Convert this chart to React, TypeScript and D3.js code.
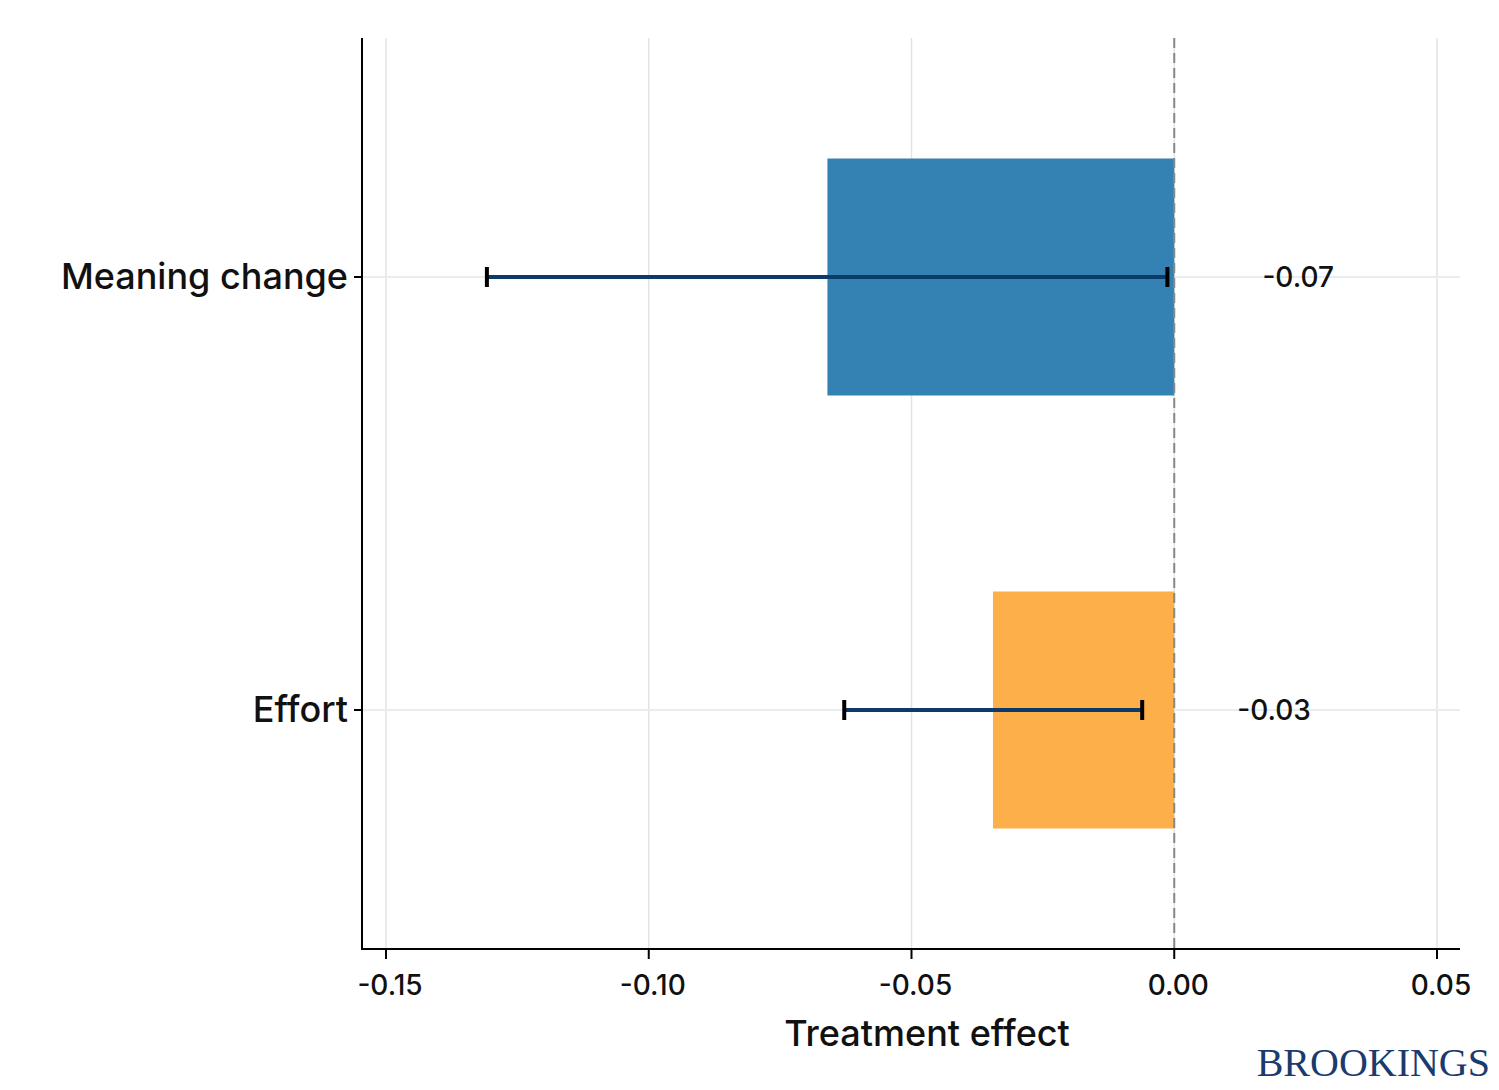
import React, { useEffect, useRef } from 'react';
import * as d3 from 'd3';

const categories = ['Meaning change', 'Effort'];
const effects = [-0.066, -0.0345];
const ciLow = [-0.1308, -0.0628];
const ciHigh = [-0.0013, -0.0061];
const valueLabels = ['-0.07', '-0.03'];
const barColors = ['#3482b4', '#fdaf4a'];
const xTicks = [-0.15, -0.1, -0.05, 0, 0.05];

const App = () => {
  const ref = useRef(null);

  useEffect(() => {
    const svg = d3.select(ref.current);
    svg.selectAll('*').remove();
    const font = 'Inter, "Noto Sans", sans-serif';

    const left = 362, right = 1460, top = 38, bottom = 949;
    const x = d3.scaleLinear().domain([-0.15, 0.05]).range([386, 1437]);
    const y = d3.scalePoint().domain(categories).range([277, 710]);
    const barH = 237;
    const cy = (c) => y(c);

    svg.append('g').selectAll('line').data(xTicks).enter().append('line')
      .attr('x1', d => x(d)).attr('x2', d => x(d))
      .attr('y1', top).attr('y2', bottom)
      .attr('stroke', '#e3e3e3').attr('stroke-width', 1.5);

    svg.append('g').selectAll('line').data(categories).enter().append('line')
      .attr('x1', left).attr('x2', right)
      .attr('y1', d => cy(d)).attr('y2', d => cy(d))
      .attr('stroke', '#e6eeee').attr('stroke-width', 2);

    svg.append('g').selectAll('rect').data(categories).enter().append('rect')
      .attr('x', (d, i) => x(effects[i]))
      .attr('width', (d, i) => x(0) - x(effects[i]))
      .attr('y', d => cy(d) - barH / 2).attr('height', barH)
      .attr('fill', (d, i) => barColors[i]);

    svg.append('line')
      .attr('x1', x(0)).attr('x2', x(0)).attr('y1', top).attr('y2', bottom)
      .attr('stroke', '#888').attr('stroke-width', 2).attr('stroke-dasharray', '10,5');

    const eb = svg.append('g');
    categories.forEach((c, i) => {
      eb.append('line')
        .attr('x1', x(ciLow[i])).attr('x2', x(ciHigh[i]))
        .attr('y1', cy(c)).attr('y2', cy(c))
        .attr('stroke', '#0b3a6b').attr('stroke-width', 4);
      [ciLow[i], ciHigh[i]].forEach(v => {
        eb.append('line')
          .attr('x1', x(v)).attr('x2', x(v))
          .attr('y1', cy(c) - 10).attr('y2', cy(c) + 10)
          .attr('stroke', '#000').attr('stroke-width', 4);
      });
      eb.append('text')
        .attr('x', x(ciHigh[i]) + 95).attr('y', cy(c) + 10)
        .attr('font-family', font).attr('font-size', 28).attr('font-weight', 500).attr('fill', '#111')
        .text(valueLabels[i]);
    });

    svg.append('line').attr('x1', left).attr('x2', left).attr('y1', top).attr('y2', bottom + 1)
      .attr('stroke', '#000').attr('stroke-width', 2);
    svg.append('line').attr('x1', left).attr('x2', right).attr('y1', bottom).attr('y2', bottom)
      .attr('stroke', '#000').attr('stroke-width', 2);

    const xt = svg.append('g');
    xTicks.forEach(t => {
      xt.append('line').attr('x1', x(t)).attr('x2', x(t)).attr('y1', bottom).attr('y2', bottom + 10)
        .attr('stroke', '#000').attr('stroke-width', 2);
      xt.append('text').attr('x', x(t) + 4).attr('y', bottom + 46)
        .attr('text-anchor', 'middle').attr('font-family', font).attr('font-size', 28).attr('font-weight', 500)
        .attr('fill', '#111').text(d3.format('.2f')(t).replace('−', '-'));
    });

    categories.forEach(c => {
      svg.append('line').attr('x1', left - 8).attr('x2', left).attr('y1', cy(c)).attr('y2', cy(c))
        .attr('stroke', '#000').attr('stroke-width', 2);
      svg.append('text').attr('x', 348).attr('y', cy(c) + 12)
        .attr('text-anchor', 'end').attr('font-family', font).attr('font-size', 36).attr('font-weight', 500)
        .attr('fill', '#111').text(c);
    });

    svg.append('text').attr('x', 927).attr('y', 1046).attr('text-anchor', 'middle')
      .attr('font-family', font).attr('font-size', 36).attr('font-weight', 500).attr('fill', '#111').text('Treatment effect');

    svg.append('text').attr('x', 1490).attr('y', 1076).attr('text-anchor', 'end')
      .attr('font-family', '"Liberation Serif", "DejaVu Serif", serif').attr('font-size', 40)
      .attr('fill', '#1b3a6e').text('BROOKINGS');
  }, []);

  return (
    <svg ref={ref} width={1499} height={1090}
      style={{ position: 'absolute', left: 0, top: 0, background: '#fff' }} />
  );
};

export default App;
